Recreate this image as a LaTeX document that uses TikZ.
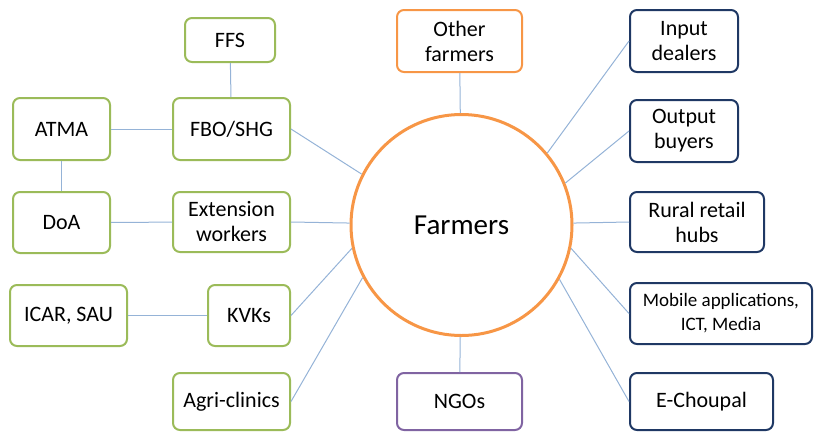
\documentclass[tikz,border=0pt]{standalone}
\usepackage{fontspec}
\setmainfont{Carlito}
\definecolor{boxgreen}{HTML}{9BBB59}
\definecolor{boxnavy}{HTML}{1F3864}
\definecolor{boxorange}{HTML}{F79646}
\definecolor{boxpurple}{HTML}{8064A2}
\definecolor{linkblue}{HTML}{95B3D7}
\begin{document}
\begin{tikzpicture}
        [x=1pt,y=-1pt,
        box/.style={rectangle,rounded corners=7pt,line width=2pt,align=center,inner sep=0pt,
                    font=\fontsize{22}{25}\selectfont},
        greenbox/.style={box,draw=boxgreen},
        navybox/.style={box,draw=boxnavy},
        link/.style={draw=linkblue,line width=1pt}]
        \useasboundingbox (0,0) rectangle (814,432);

        % centre
        \node[circle,draw=boxorange,line width=3pt,minimum size=221pt,font=\fontsize{29}{30}\selectfont]
              (farmers) at (461.5,225) {Farmers};

        % left side
        \node[greenbox,minimum width=90pt,minimum height=44pt]  (FFS)   at (230,40)      {FFS};
        \node[greenbox,minimum width=117pt,minimum height=62pt] (FBO)   at (231.5,129)   {FBO/SHG};
        \node[greenbox,minimum width=97pt,minimum height=62pt]  (ATMA)  at (61.5,129)    {ATMA};
        \node[greenbox,minimum width=97pt,minimum height=61pt]  (DoA)   at (61.5,222.5)  {DoA};
        \node[greenbox,minimum width=117pt,minimum height=60pt] (Ext)   at (231.5,222)   {Extension\\workers};
        \node[greenbox,minimum width=117pt,minimum height=61pt] (ICAR)  at (68.5,315.5)  {ICAR, SAU};
        \node[greenbox,minimum width=82pt,minimum height=61pt]  (KVK)   at (249,315.5)   {KVKs};
        \node[greenbox,minimum width=117pt,minimum height=57pt] (Agri)  at (231.5,401.5) {Agri-clinics};

        % top and bottom
        \node[box,draw=boxorange,minimum width=125pt,minimum height=62pt] (Other) at (459.5,41)    {Other\\farmers};
        \node[box,draw=boxpurple,minimum width=125pt,minimum height=57pt] (NGO)   at (459.5,401.5) {NGOs};

        % right side
        \node[navybox,minimum width=108pt,minimum height=62pt] (Input)  at (684,41)      {Input\\dealers};
        \node[navybox,minimum width=108pt,minimum height=62pt] (Output) at (684,131)     {Output\\buyers};
        \node[navybox,minimum width=134pt,minimum height=60pt] (Rural)  at (697,222)     {Rural retail\\hubs};
        \node[navybox,minimum width=182pt,minimum height=61pt,font=\fontsize{19}{24}\selectfont]
              (Mobile) at (721,313.5) {Mobile applications,\\ICT, Media};
        \node[navybox,minimum width=143pt,minimum height=57pt] (Choupal) at (701.5,401.5) {E-Choupal};

        \draw[link]
        (FFS)           edge    (FBO)
        (ATMA)          edge    (FBO)
        (ATMA)          edge    (DoA)
        (DoA)           edge    (Ext)
        (ICAR)          edge    (KVK)

        % to farmers
        (FBO.east)      edge    (farmers.153)
        (Ext.east)      edge    (farmers.179)
        (KVK.east)      edge    (farmers.192)
        (Agri.east)     edge    (farmers.208)
        (Other)         edge    (farmers)
        (NGO)           edge    (farmers)
        (Input.west)    edge    (farmers.40)
        (Output.west)   edge    (farmers.22)
        (Rural.west)    edge    (farmers.1)
        (Mobile.west)   edge    (farmers.-12)
        (Choupal.west)  edge    (farmers.-29);
\end{tikzpicture}
\end{document}
